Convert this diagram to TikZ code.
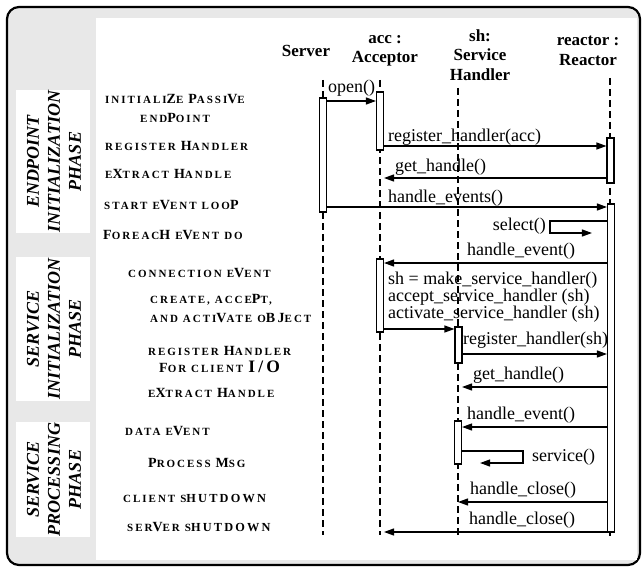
\documentclass[tikz,border=0pt]{standalone}
\usepackage{fontspec}
\setmainfont{Liberation Serif}
\newfontfamily\stepfont[LetterSpace=18]{Liberation Serif}
\usetikzlibrary{arrows.meta}
\newcommand\Bg[1]{{\fontsize{14}{14}\selectfont #1}}
\newcommand\Mg[1]{{\fontsize{12.3}{12.3}\selectfont #1}}
\newcommand\Hg[1]{{\fontsize{17.5}{17.5}\selectfont #1}}
\newcommand\W{\hspace{5pt}}
\begin{document}
\begin{tikzpicture}[x=1pt,y=-1pt,
  life/.style={dash pattern=on 7pt off 4pt, line width=1.1pt},
  act/.style={draw, fill=white, line width=1.1pt, minimum width=7pt, inner sep=0pt},
  msg/.style={-{Triangle[length=10pt,width=7pt]}, line width=1.2pt},
  mlbl/.style={anchor=west, inner sep=0pt, font=\fontsize{18}{17}\selectfont},
  hdr/.style={align=center, inner sep=0pt, font=\bfseries\fontsize{17}{19.5}\selectfont},
  steplbl/.style={anchor=base west, inner sep=0pt, font=\stepfont\bfseries\fontsize{11}{13}\selectfont},
  phase/.style={rotate=90, align=center, inner sep=0pt, font=\bfseries\itshape\fontsize{18}{21}\selectfont}]
\useasboundingbox (0,0) rectangle (642,567);
% frame
\draw[line width=2.2pt, rounded corners=12pt, fill=black!9] (7,7) rectangle (640,565);
\fill[white] (96,18) rectangle (637,560);
% phase boxes
\fill[white] (16,90) rectangle (90,233);
\fill[white] (16,257) rectangle (90,401);
\fill[white] (16,422) rectangle (90,537);
\node[phase] (ph1) at (54,161.5) {ENDPOINT\\INITIALIZATION\\PHASE};
\node[phase] (ph2) at (54,329) {SERVICE\\INITIALIZATION\\PHASE};
\node[phase] (ph3) at (54,479.5) {SERVICE\\PROCESSING\\PHASE};
% headers
\node[hdr] (srvH) at (306,51) {Server};
\node[hdr] (accH) at (385,51) {acc :\\Acceptor};
\node[hdr] (shH) at (480,55) {sh:\\Service\\Handler};
\node[hdr] (reaH) at (588,51) {reactor :\\Reactor};
% lifelines
\coordinate (srvT) at (323,80); \coordinate (srvB) at (323,535);
\coordinate (accT) at (380,80); \coordinate (accB) at (380,535);
\coordinate (shT) at (458,88); \coordinate (shB) at (458,535);
\coordinate (reaT) at (610,78); \coordinate (reaB) at (610,536);
\draw[life] (srvT) -- (srvB);
\draw[life] (accT) -- (accB);
\draw[life] (shT) -- (shB);
\draw[life] (reaT) -- (reaB);
% activation boxes
\node[act, minimum height=114pt] (srvA) at (323,155) {};
\node[act, minimum height=58pt] (accA1) at (380,121) {};
\node[act, minimum height=73pt] (accA2) at (380,295.5) {};
\node[act, minimum height=36pt] (shA1) at (458.5,345) {};
\node[act, minimum height=43pt] (shA2) at (458,442.5) {};
\node[act, minimum height=45pt] (reaA1) at (610.5,160.5) {};
\node[act, minimum height=328pt] (reaA2) at (611,368) {};
% message levels
\coordinate (y1) at (0,101);
\coordinate (y2) at (0,146);
\coordinate (y3) at (0,178);
\coordinate (y4) at (0,207);
\coordinate (y6) at (0,263);
\coordinate (y8) at (0,329);
\coordinate (y9) at (0,354);
\coordinate (y10) at (0,387);
\coordinate (y11) at (0,427);
\coordinate (y13) at (0,502);
\coordinate (y14) at (0,532);
\draw[msg] (srvA.east |- y1) -- (accA1.west |- y1);
\draw[msg] (accA1.east |- y2) -- (reaA1.west |- y2);
\draw[msg, shorten >=4pt] (reaA1.west |- y3) -- (accT |- y3);
\draw[msg] (srvA.east |- y4) -- (reaA2.west |- y4);
\coordinate (sel1) at (550,221); \coordinate (sel2) at (550,233);
\draw[msg] (reaA2.west |- sel1) -- (sel1) -- (sel2) -- ([xshift=-15pt]reaA2.west |- sel2);
\draw[msg] (reaA2.west |- y6) -- (accA2.east |- y6);
\draw[msg] (accA2.east |- y8) -- (shA1.west |- y8);
\draw[msg] (shA1.east |- y9) -- (reaA2.west |- y9);
\draw[msg, shorten >=4pt] (reaA2.west |- y10) -- (shT |- y10);
\draw[msg] (reaA2.west |- y11) -- (shA2.east |- y11);
\coordinate (sv1) at (523,451); \coordinate (sv2) at (523,463);
\draw[msg] (shA2.east |- sv1) -- (sv1) -- (sv2) -- ([xshift=18pt]shA2.east |- sv2);
\draw[msg] (reaA2.west |- y13) -- (shT |- y13);
\draw[msg, shorten >=4pt] (reaA2.west |- y14) -- (accT |- y14);
% message labels
\node[mlbl] (l1) at (328,88.5) {open()};
\node[mlbl] (l2) at (388,137) {register\_handler(acc)};
\node[mlbl] (l3) at (395,167.5) {get\_handle()};
\node[mlbl] (l4) at (388,198) {handle\_events()};
\node[mlbl, anchor=east] (l5) at (546,226.5) {select()};
\node[mlbl] (l6) at (467,251.5) {handle\_event()};
\node[mlbl, align=left, anchor=north west] (l7) at (388,272) {sh = make\_service\_handler()\\accept\_service\_handler (sh)\\activate\_service\_handler (sh)};
\node[mlbl] (l9) at (463,340) {register\_handler(sh)};
\node[mlbl] (l10) at (473,375) {get\_handle()};
\node[mlbl] (l11) at (467,415) {handle\_event()};
\node[mlbl] (l12) at (532,457) {service()};
\node[mlbl] (l13) at (470,490) {handle\_close()};
\node[mlbl] (l14) at (469,520) {handle\_close()};
% step labels
\node[steplbl] (s1) at (105,103) {INITIALI\Bg{Z}E\W \Bg{P}ASSI\Bg{V}E};
\node[steplbl] (s2) at (140,122) {END\Bg{P}OINT};
\node[steplbl] (s3) at (105,150) {REGISTER\W \Bg{H}ANDLER};
\node[steplbl] (s4) at (105,178) {E\Bg{X}TRACT\W \Bg{H}ANDLE};
\node[steplbl] (s5) at (104,209) {START\W E\Bg{V}ENT\W LOO\Bg{P}};
\node[steplbl] (s6) at (103,239) {\Bg{F}OREAC\Bg{H}\W E\Bg{V}ENT\W DO};
\node[steplbl] (s7) at (128,277) {CONNECTION\W E\Bg{V}ENT};
\node[steplbl] (s8) at (150,303) {CREATE,\W ACCE\Bg{P}T,};
\node[steplbl] (s9) at (150,322) {AND\W ACTI\Bg{V}ATE\W O\Bg{BJ}ECT};
\node[steplbl] (s10) at (148,355) {REGISTER\W \Bg{H}ANDLER};
\node[steplbl] (s11) at (159,372) {\Bg{F}OR\W CLIENT\W \Hg{I/O}};
\node[steplbl] (s12) at (148,397) {E\Bg{X}TRACT\W \Bg{H}ANDLE};
\node[steplbl] (s13) at (125,435) {DATA\W E\Bg{V}ENT};
\node[steplbl] (s14) at (148,467) {\Bg{P}ROCESS\W \Bg{M}SG};
\node[steplbl] (s15) at (123,502) {CLIENT\W S\Mg{HUTDOWN}};
\node[steplbl] (s16) at (127,531) {SER\Bg{V}ER\W S\Mg{HUTDOWN}};
\end{tikzpicture}
\end{document}
